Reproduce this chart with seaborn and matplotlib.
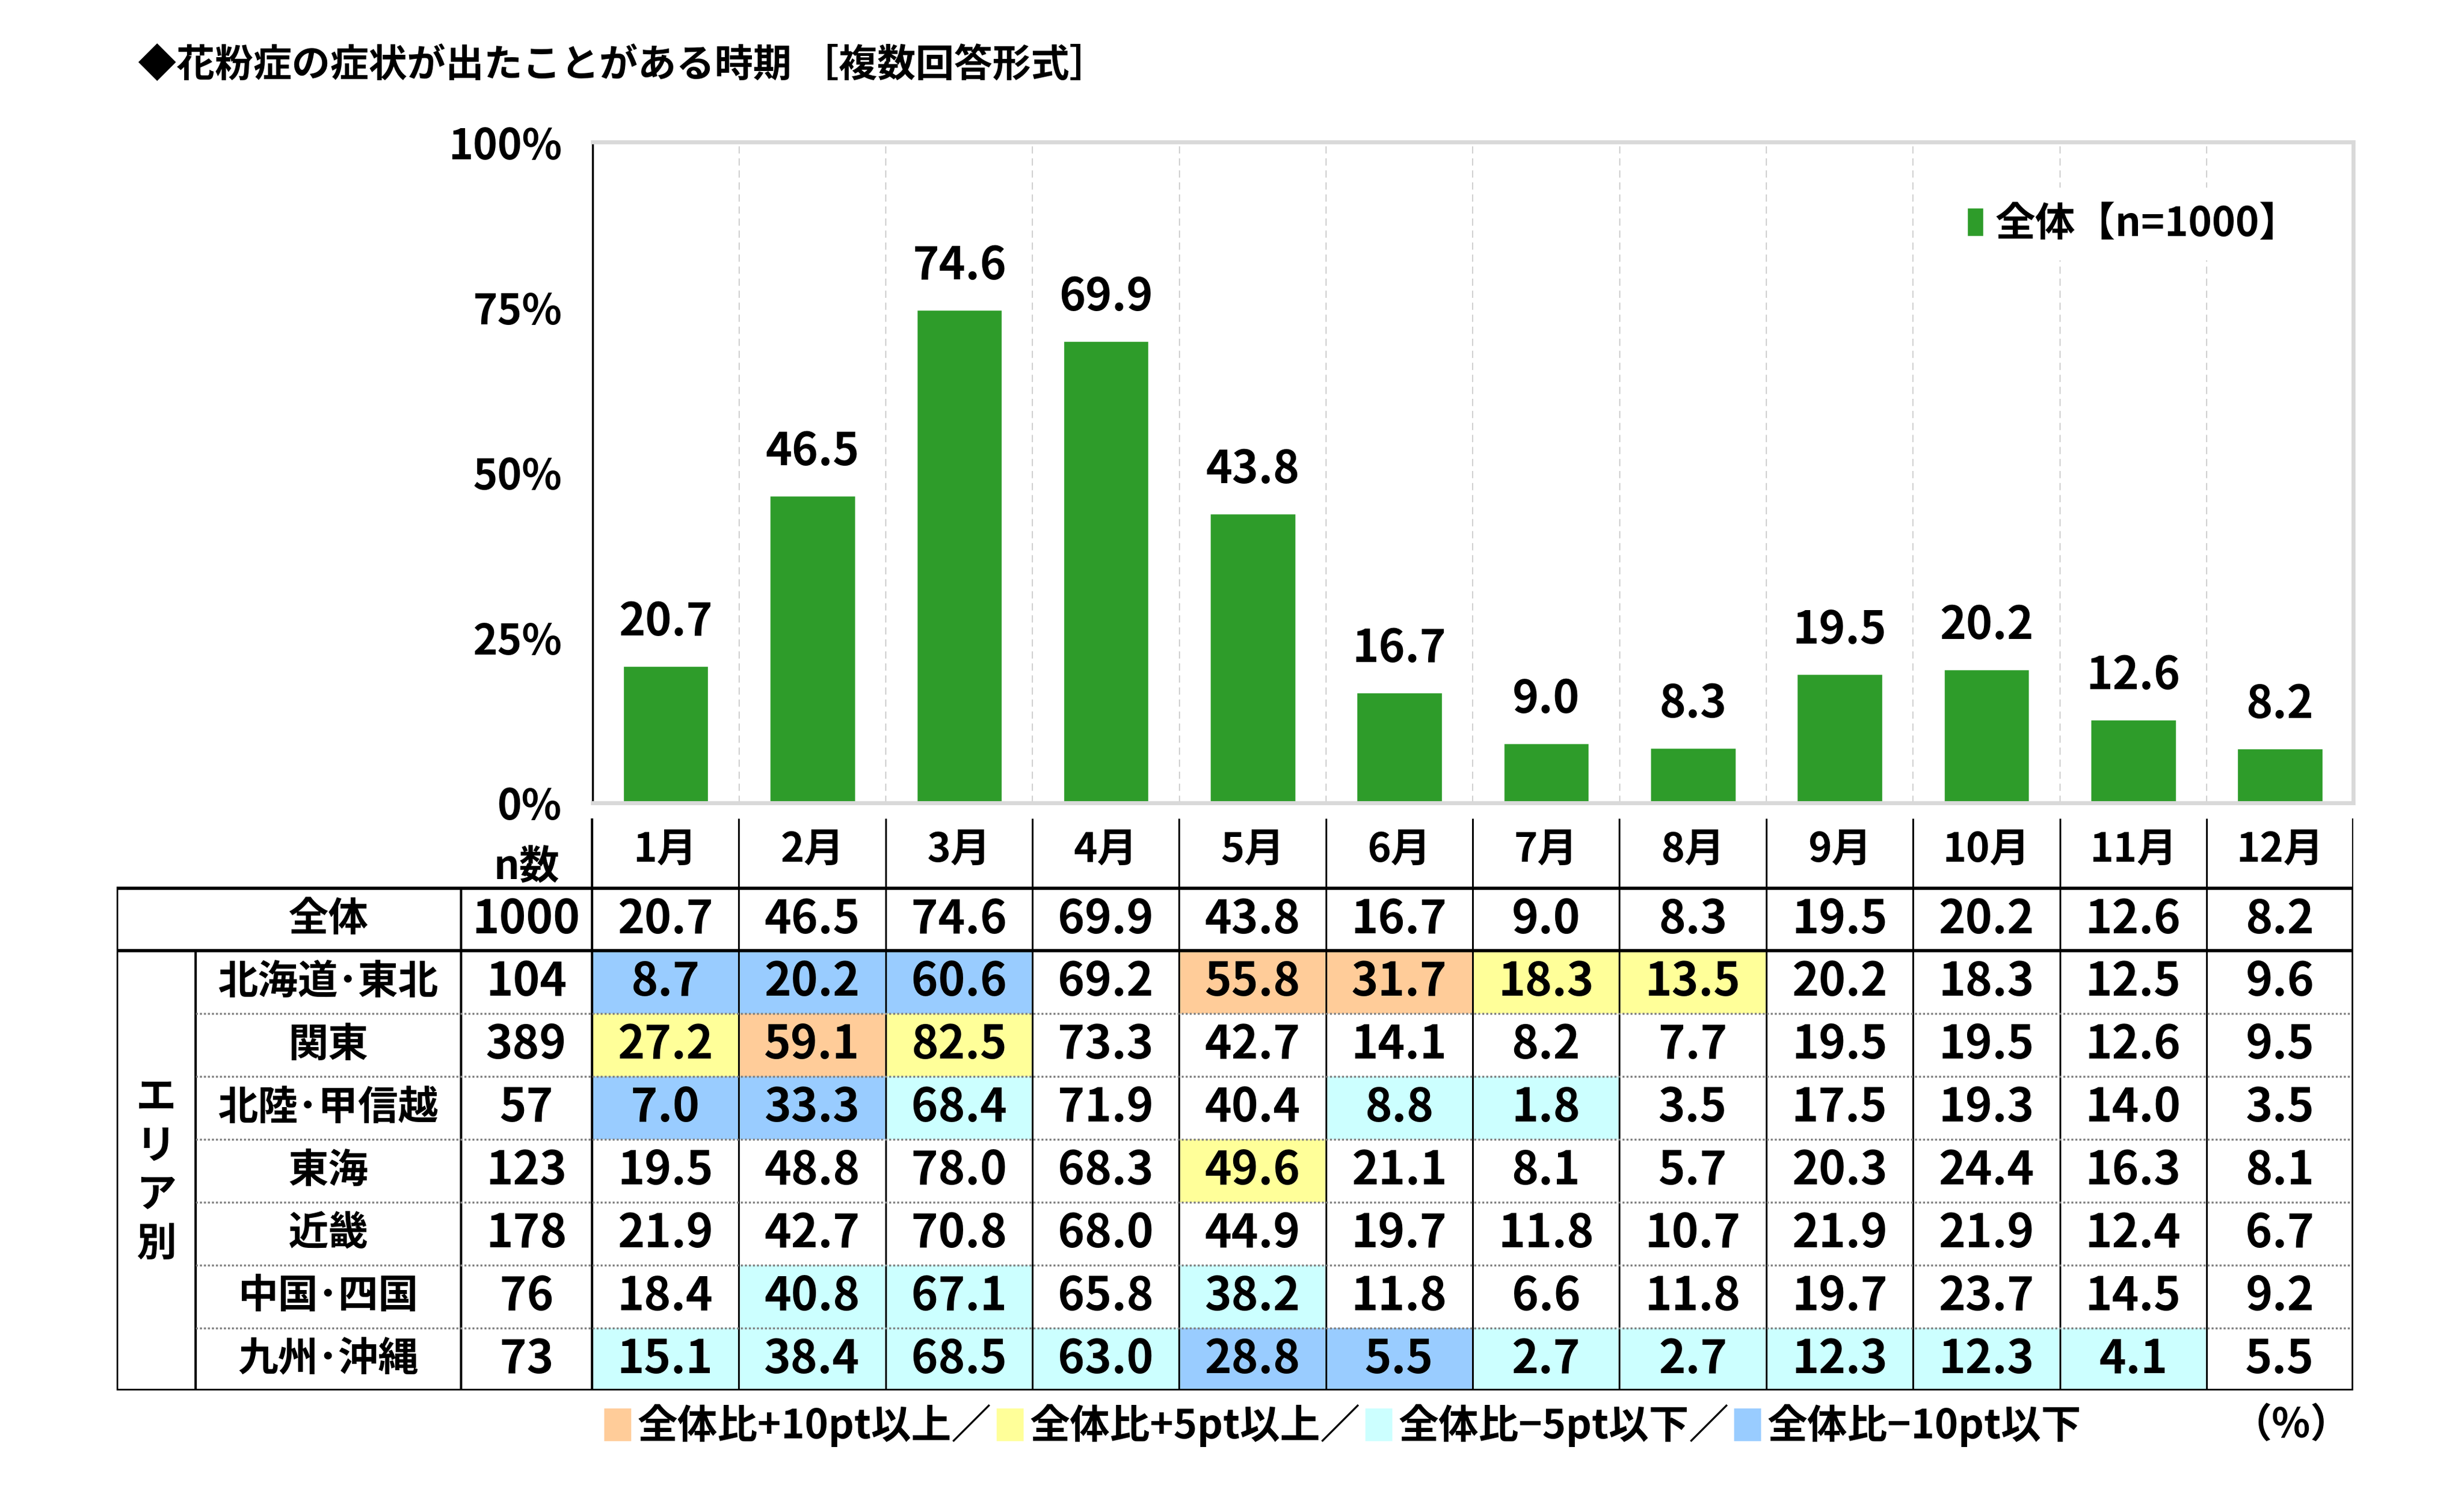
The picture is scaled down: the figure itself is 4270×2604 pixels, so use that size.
import numpy as np
import pandas as pd
import seaborn as sns
import matplotlib.pyplot as plt
from matplotlib.colors import ListedColormap
from matplotlib.patches import Patch

# data
months = ['1月', '2月', '3月', '4月', '5月', '6月', '7月', '8月', '9月', '10月', '11月', '12月']
overall = [20.7, 46.5, 74.6, 69.9, 43.8, 16.7, 9.0, 8.3, 19.5, 20.2, 12.6, 8.2]
overall_n = 1000

regions = ['北海道･東北', '関東', '北陸･甲信越', '東海', '近畿', '中国･四国', '九州･沖縄']
region_n = [104, 389, 57, 123, 178, 76, 73]
hokkaido_tohoku = [8.7, 20.2, 60.6, 69.2, 55.8, 31.7, 18.3, 13.5, 20.2, 18.3, 12.5, 9.6]
kanto = [27.2, 59.1, 82.5, 73.3, 42.7, 14.1, 8.2, 7.7, 19.5, 19.5, 12.6, 9.5]
hokuriku_koshinetsu = [7.0, 33.3, 68.4, 71.9, 40.4, 8.8, 1.8, 3.5, 17.5, 19.3, 14.0, 3.5]
tokai = [19.5, 48.8, 78.0, 68.3, 49.6, 21.1, 8.1, 5.7, 20.3, 24.4, 16.3, 8.1]
kinki = [21.9, 42.7, 70.8, 68.0, 44.9, 19.7, 11.8, 10.7, 21.9, 21.9, 12.4, 6.7]
chugoku_shikoku = [18.4, 40.8, 67.1, 65.8, 38.2, 11.8, 6.6, 11.8, 19.7, 23.7, 14.5, 9.2]
kyushu_okinawa = [15.1, 38.4, 68.5, 63.0, 28.8, 5.5, 2.7, 2.7, 12.3, 12.3, 4.1, 5.5]

legend_labels = ['全体比+10pt以上／', '全体比+5pt以上／', '全体比−5pt以下／', '全体比−10pt以下']

GREEN = '#2E9C2A'
HL_COLORS = ['#FFCC99', '#FFFF99', '#CCFFFF', '#99CCFF']

sns.set_theme(style='white')
plt.rcParams['font.family'] = ['Noto Sans CJK JP', 'DejaVu Sans']
plt.rcParams['font.weight'] = 'bold'
plt.rcParams['text.color'] = 'black'

fig = plt.figure(figsize=(42.7, 26.04), dpi=100)

# --- bar chart ---
ax = fig.add_axes([0.2404, 0.4658, 0.7147, 0.4396])
df = pd.DataFrame({'month': months, 'value': overall})
sns.barplot(data=df, x='month', y='value', color=GREEN, saturation=1, width=0.58, ax=ax)
ax.bar_label(ax.containers[0], fmt='%.1f', padding=26, fontsize=56, fontweight='bold')

ax.set_xlim(-0.5, 11.5)
ax.set_ylim(0, 100)
ax.set_xlabel('')
ax.set_ylabel('')
ax.set_yticks([0, 25, 50, 75, 100])
ax.set_yticklabels([f'{v}%' for v in [0, 25, 50, 75, 100]], fontsize=52, fontweight='bold')
ax.set_xticks(np.arange(12))
ax.set_xticklabels([])
ax.set_xticks(np.arange(0.5, 11, 1), minor=True)
ax.tick_params(axis='x', which='both', length=0)
ax.tick_params(axis='y', direction='in', length=14, width=2.5, pad=38, colors='black')
ax.grid(False)
ax.grid(which='minor', axis='x', color='#D0D0D0', linestyle=(0, (6, 4)), linewidth=1.5)
ax.set_axisbelow(True)
for s in ['top', 'right', 'bottom']:
    ax.spines[s].set_color('#D9D9D9')
    ax.spines[s].set_linewidth(5)
ax.spines['left'].set_color('black')
ax.spines['left'].set_linewidth(2.5)

ax.legend(handles=[Patch(facecolor=GREEN)], labels=[f'全体【n={overall_n}】'],
          loc='center right', bbox_to_anchor=(0.99, 0.876), frameon=True,
          facecolor='white', edgecolor='none', framealpha=1, fontsize=50,
          handlelength=0.4, handleheight=0.7, handletextpad=0.3, borderpad=0.4)

# --- table ---
tax = fig.add_axes([0.0474, 0.0747, 0.9077, 0.3807])

table_vals = np.array([overall, hokkaido_tohoku, kanto, hokuriku_koshinetsu, tokai,
                       kinki, chugoku_shikoku, kyushu_okinawa])
diff = np.round(table_vals - np.array(overall), 1)
codes = np.zeros_like(table_vals, dtype=int)
codes[diff >= 5] = 2
codes[diff >= 10] = 1
codes[diff <= -5] = 3
codes[diff <= -10] = 4
annot = np.vectorize(lambda v: f'{v:.1f}')(table_vals)

sns.heatmap(pd.DataFrame(codes, columns=months), ax=tax,
            cmap=ListedColormap(['white'] + HL_COLORS), vmin=-0.5, vmax=4.5,
            cbar=False, annot=annot, fmt='', xticklabels=False, yticklabels=False,
            annot_kws={'fontsize': 57, 'fontweight': 'bold', 'color': 'black'})

X_AREA, X_LABEL, X_N, HEAD = -3.237, -2.70, -0.892, -1.107
tax.set_xlim(X_AREA, 12)
tax.set_ylim(8, HEAD)
tax.set_axis_off()

# header
for i, m in enumerate(months):
    tax.text(i + 0.5, HEAD / 2 - 0.05, m, ha='center', va='center', fontsize=50, fontweight='bold')
tax.text(X_N / 2, -0.33, 'n数', ha='center', va='center', fontsize=50, fontweight='bold')

# row labels and n
tax.text((X_LABEL + X_N) / 2, 0.5, '全体', ha='center', va='center', fontsize=50, fontweight='bold')
tax.text(X_N / 2, 0.5, str(overall_n), ha='center', va='center', fontsize=57, fontweight='bold')
for r, (name, n) in enumerate(zip(regions, region_n), start=1):
    tax.text((X_LABEL + X_N) / 2, r + 0.5, name, ha='center', va='center', fontsize=50, fontweight='bold')
    tax.text(X_N / 2, r + 0.5, str(n), ha='center', va='center', fontsize=57, fontweight='bold')
for k, ch in enumerate('エリア別'):
    tax.text((X_AREA + X_LABEL) / 2, 4.5 + (k - 1.5) * 0.78, ch, ha='center', va='center',
             fontsize=50, fontweight='bold')

# grid lines
tax.vlines(np.arange(1, 12), HEAD, 8, color='black', linewidth=2.2)
tax.vlines([0, 12], HEAD, 8, color='black', linewidth=3)
tax.vlines(X_N, 0, 8, color='black', linewidth=3)
tax.vlines(X_LABEL, 1, 8, color='black', linewidth=3)
tax.vlines(X_AREA, 0, 8, color='black', linewidth=4)
tax.hlines([0, 1, 8], X_AREA, 12, color='black', linewidth=4)
tax.hlines(np.arange(2, 8), X_LABEL, 12, color='#808080', linestyle=(0, (1, 1)), linewidth=2.5)
tax.vlines(12, 0, 8, color='black', linewidth=4)

# --- colour key ---
fig.legend(handles=[Patch(facecolor=c) for c in HL_COLORS], labels=legend_labels,
           loc='center left', bbox_to_anchor=(0.2449, 0.0515), ncol=4, frameon=False,
           fontsize=50, handlelength=0.7, handleheight=0.9, handletextpad=0.15,
           columnspacing=0.1, borderpad=0, borderaxespad=0)
fig.text(0.954, 0.0515, '（%）', ha='right', va='center', fontsize=50, fontweight='bold')

fig.text(0.056, 0.956, '◆花粉症の症状が出たことがある時期 ［複数回答形式］', ha='left', va='center',
         fontsize=48, fontweight='bold')

fig.savefig('out.png', dpi=100, facecolor='white')
